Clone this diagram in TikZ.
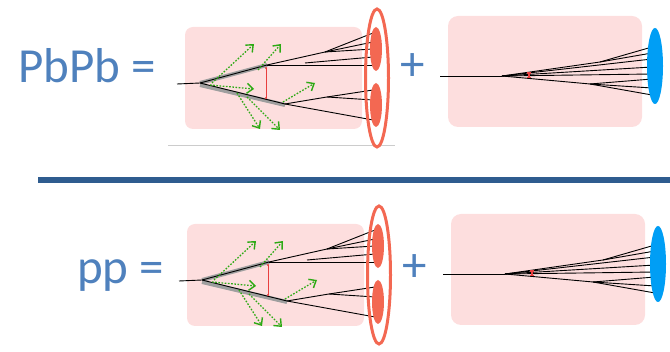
\documentclass[tikz,border=0pt]{standalone}
\usepackage{fontspec}
\setmainfont{Carlito}
\usetikzlibrary{arrows.meta}
\definecolor{boxpink}{RGB}{253,222,222}
\definecolor{calored}{RGB}{243,104,82}
\definecolor{markred}{RGB}{232,62,62}
\definecolor{calblue}{RGB}{0,158,245}
\definecolor{labelblue}{RGB}{79,129,189}
\definecolor{barblue}{RGB}{47,92,143}
\definecolor{gluongreen}{RGB}{45,170,20}
\tikzset{
  jet/.style={black, line width=0.9pt},
  leg/.style={gray!75, line width=4pt},
  gluon/.style={gluongreen, dash pattern=on 1.6pt off 1.6pt, line width=1.3pt,
    -{Straight Barb[length=6pt,width=10pt,line width=1.4pt]}},
  eqtext/.style={text=labelblue, font=\fontsize{49}{58}\selectfont, inner sep=0pt},
}
\begin{document}
\begin{tikzpicture}[x=1pt,y=-1pt]
\useasboundingbox (0,0) rectangle (670,352);
% the two equations
\node[eqtext, anchor=base west] (pbpb) at (18,83) {PbPb =};
\node[eqtext, anchor=base west] (pp) at (77,283.5) {pp =};
\node[eqtext] (plustop) at (413,67) {+};
\node[eqtext] (plusbot) at (414.5,268.5) {+};
% rules
\draw[gray!40, line width=0.8pt] (168,145) -- (395,145);
\fill[barblue] (38,177) rectangle (670,183);
% medium-modified shower, top and bottom
\foreach \dx/\dy in {0/0,2/197} {
\begin{scope}[shift={(\dx,\dy)}]
\fill[boxpink, rounded corners=8pt] (185,27) rectangle (362,129);
\coordinate (in) at (177,84);
\coordinate (v) at (200,83);
\coordinate (a) at (267,65);
\coordinate (b) at (285,104);
\coordinate (sa) at (325,52);
\coordinate (sc) at (305,63);
\coordinate (sb) at (327,97);
% thick legs, then the partons on top
\draw[leg] (v) -- (a);
\draw[leg] ([yshift=-2pt]v) -- ([yshift=-1pt]b);
\draw[jet] (in) -- (v) -- (a);
\draw[jet] (v) -- (b);
\draw[jet] (a) -- (373,65);
\draw[jet] (a) -- (sa);
\draw[jet] (sc) -- (373,57);
\foreach \y in {33,42,49} \draw[jet] (sa) -- (373,\y);
\draw[jet] (b) -- (sb);
\foreach \y in {90,100} \draw[jet] (sb) -- (373,\y);
\draw[jet] (b) -- (373,120);
% exchange between the legs
\draw[markred, line width=0.8pt] (266,68) -- (266,98);
\fill[markred] (266,68) circle (1.2pt) (266,98) circle (1.2pt);
% radiated gluons
\draw[gluon] (212,83) -- (254,44);
\draw[gluon] (258,70) -- (281,44);
\draw[gluon] (210,85) -- (254,89);
\draw[gluon] (237,93) -- (260,129);
\draw[gluon] (247,97) -- (280,130);
\draw[gluon] (283,102) -- (315,83);
% calorimeter deposits
\fill[calored] (376,49) ellipse [x radius=6pt, y radius=22pt];
\fill[calored] (376,105) ellipse [x radius=6pt, y radius=22pt];
\draw[calored, line width=3pt] (377,78) ellipse [x radius=11.5pt, y radius=69pt];
\end{scope}
}
% vacuum shower, top and bottom
\foreach \dx/\dy in {0/0,3/198} {
\begin{scope}[shift={(\dx,\dy)}]
\fill[boxpink, rounded corners=10pt] (448,16) rectangle (642,127);
\coordinate (in) at (440,76);
\coordinate (p) at (502,76);
\coordinate (u) at (600,62);
\coordinate (l) at (590,84);
\draw[jet] (in) -- (p);
\draw[jet] (p) -- (u);
\draw[jet] (p) -- (l);
\foreach \y in {47,53} \draw[jet] (u) -- (652,\y);
\foreach \y in {59,67,74} \draw[jet] (p) -- (652,\y);
\foreach \y in {79,88,95} \draw[jet] (l) -- (652,\y);
\draw[markred, line width=1.4pt, {Bar[width=4pt]}-{Bar[width=4pt]}] (529,72.5) -- (529,78.5);
\fill[calblue] (655,66) ellipse [x radius=8pt, y radius=38pt];
\end{scope}
}
\end{tikzpicture}
\end{document}
